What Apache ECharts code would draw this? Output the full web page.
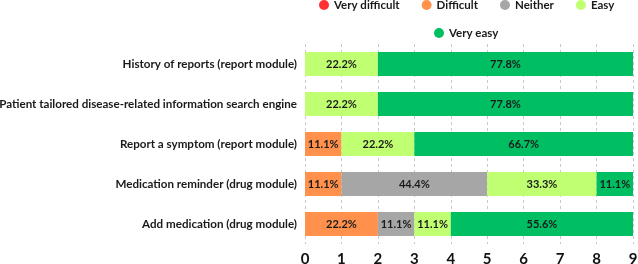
<!DOCTYPE html>
<html><head><meta charset="utf-8">
<script src="https://cdn.jsdelivr.net/npm/echarts@6/dist/echarts.min.js"></script>
<style>html,body{margin:0;padding:0;background:#fff}#c{width:638px;height:264px}</style>
</head><body><div id="c"></div>
<script>
const categories = [
  'History of reports (report module)',
  'Patient tailored disease-related information search engine',
  'Report a symptom (report module)',
  'Medication reminder (drug module)',
  'Add medication (drug module)'
];
const totalRespondents = 9;
const veryDifficult = [null, null, null, null, null];
const difficult = [null, null, 1, 1, 2];
const neither = [null, null, null, 4, 1];
const easy = [2, 2, 2, 3, 1];
const veryEasy = [7, 7, 6, 1, 5];
const xTicks = [0, 1, 2, 3, 4, 5, 6, 7, 8, 9];

const FONT = 'Lato';
const names = ['Very difficult', 'Difficult', 'Neither', 'Easy', 'Very easy'];
const colors = ['#ff3131', '#ff914d', '#a6a6a6', '#c1ff72', '#00bf63'];
const datas = [veryDifficult, difficult, neither, easy, veryEasy];

const series = names.map((n, i) => ({
  name: n, type: 'bar', stack: 'total', data: datas[i],
  barCategoryGap: '40%',
  itemStyle: { color: colors[i] },
  label: {
    show: true, position: 'inside', color: '#1a1a1a',
    fontFamily: FONT, fontWeight: 'bold', fontSize: 11,
    formatter: p => p.value ? (p.value / totalRespondents * 100).toFixed(1) + '%' : ''
  }
}));

const chart = echarts.init(document.getElementById('c'), null, { renderer: 'canvas' });
const legendText = { fontFamily: FONT, fontWeight: 'bold', fontSize: 11.5, color: '#1a1a1a' };
chart.setOption({
  animation: false,
  legend: [
    { data: names.slice(0, 4), left: 319, top: -1, padding: 0, icon: 'circle', itemWidth: 10, itemHeight: 10, itemGap: 22, textStyle: legendText },
    { data: names.slice(4), left: 434, top: 27, padding: 0, icon: 'circle', itemWidth: 10, itemHeight: 10, textStyle: legendText }
  ],
  grid: { left: 305, right: 5, top: 44, bottom: 20, containLabel: false, outerBoundsMode: 'none' },
  xAxis: {
    type: 'value', min: xTicks[0], max: xTicks[xTicks.length - 1], interval: 1,
    axisLine: { show: false }, axisTick: { show: false },
    axisLabel: { fontFamily: FONT, fontSize: 15, fontWeight: 'bold', color: '#111', margin: 8,
      formatter: v => xTicks.includes(v) ? String(v) : '' },
    splitLine: { show: true, lineStyle: { type: [3, 3], color: '#c8c8c8', width: 1 } }
  },
  yAxis: {
    type: 'category', data: categories, inverse: true,
    axisLine: { show: false }, axisTick: { show: false },
    axisLabel: { fontFamily: FONT, fontSize: 11.6, fontWeight: 'bold', color: '#1a1a1a', margin: 8 }
  },
  series
});
</script></body></html>
